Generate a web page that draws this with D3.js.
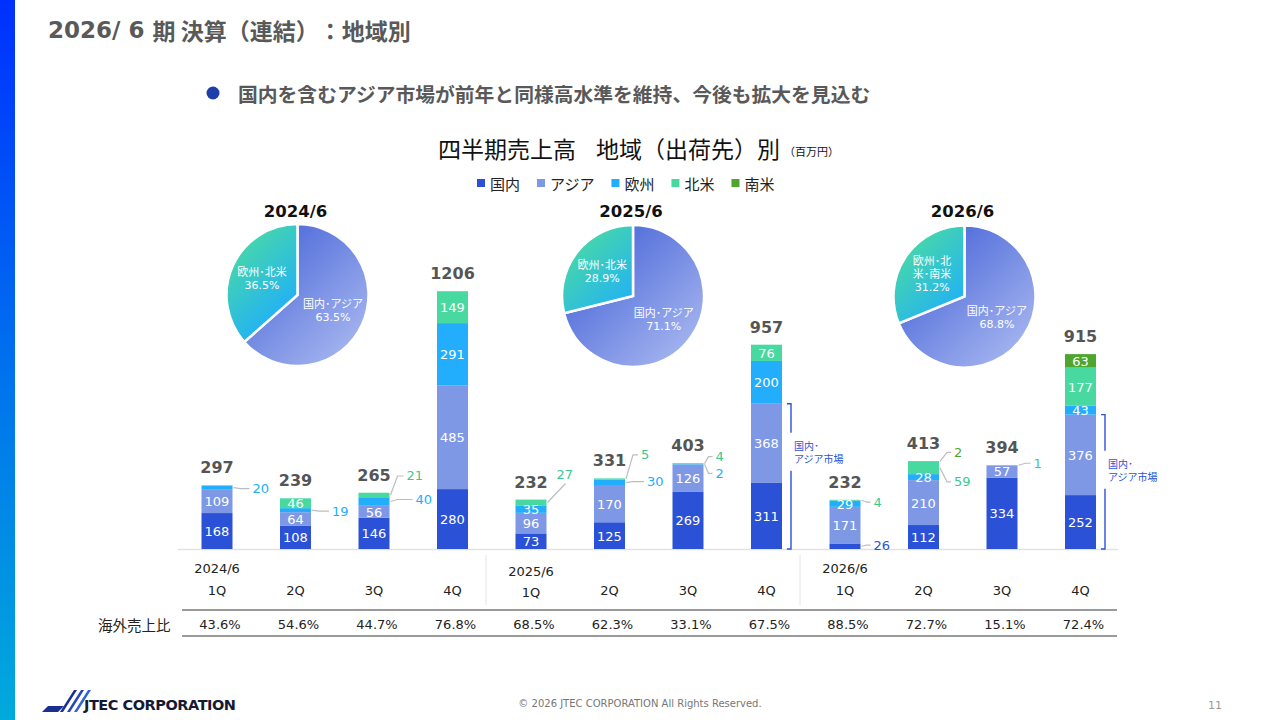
<!DOCTYPE html>
<html lang="ja">
<head>
<meta charset="utf-8">
<title>地域別</title>
<script src="https://cdn.jsdelivr.net/npm/d3@7"></script>
<style>
  html, body { margin: 0; padding: 0; background: #fff; }
  svg { display: block; text-spacing-trim: space-all; }
  text { font-family: "DejaVu Sans", "Noto Sans CJK JP", sans-serif; text-spacing-trim: space-all; }
  .jp { font-family: "Noto Sans CJK JP", sans-serif; }
</style>
</head>
<body>
<svg id="chart" width="1280" height="720"></svg>
<script>
// ---- data (百万円) ----
const quarterLabels = ["1Q", "2Q", "3Q", "4Q", "1Q", "2Q", "3Q", "4Q", "1Q", "2Q", "3Q", "4Q"];
const fiscalYears = ["2024/6", "2025/6", "2026/6"];
const domestic = [168, 108, 146, 280, 73, 125, 269, 311, 26, 112, 334, 252];
const asia = [109, 64, 56, 485, 96, 170, 126, 368, 171, 210, 57, 376];
const europe = [20, 19, 40, 291, 35, 30, 2, 200, 29, 28, 0, 43];
const northAmerica = [0, 46, 21, 149, 27, 5, 4, 76, 4, 59, 1, 177];
const southAmerica = [0, 0, 0, 0, 0, 0, 0, 0, 0, 2, 0, 63];
const totals = [297, 239, 265, 1206, 232, 331, 403, 957, 232, 413, 394, 915];
const overseasRatio = ["43.6%", "54.6%", "44.7%", "76.8%", "68.5%", "62.3%", "33.1%", "67.5%", "88.5%", "72.7%", "15.1%", "72.4%"];

const pieDomAsia = [63.5, 71.1, 68.8];
const pieOverseas = [36.5, 28.9, 31.2];
const pieOverseasNames = [["欧州･北米"], ["欧州･北米"], ["欧州･北", "米･南米"]];

const seriesKeys = ["domestic", "asia", "europe", "northAmerica", "southAmerica"];
const seriesNames = ["国内", "アジア", "欧州", "北米", "南米"];

// ---- styles / layout ----
const colors = {
  domestic: "#2b52d6", asia: "#7f98e6", europe: "#22aefc",
  northAmerica: "#47d9a0", southAmerica: "#4ea62e"
};
const labelColors = {
  domestic: "#2b52d6", asia: "#7f98e6", europe: "#22aefc",
  northAmerica: "#3cc890", southAmerica: "#4ea62e"
};
// values drawn outside the bar with a leader line
const callouts = [
  { i: 0, k: "europe", dx: 20, dy: 1 },
  { i: 1, k: "europe", dx: 21, dy: 1 },
  { i: 2, k: "europe", dx: 26, dy: -2 },
  { i: 2, k: "northAmerica", dx: 17, dy: -19 },
  { i: 4, k: "northAmerica", dx: 10, dy: -28, lead: [18, -19] },
  { i: 5, k: "europe", dx: 22, dy: -1 },
  { i: 5, k: "northAmerica", dx: 16, dy: -24 },
  { i: 6, k: "northAmerica", dx: 12, dy: -7 },
  { i: 6, k: "europe", dx: 12, dy: 9 },
  { i: 8, k: "northAmerica", dx: 13, dy: 2 },
  { i: 8, k: "domestic", dx: 13, dy: -1 },
  { i: 9, k: "southAmerica", dx: 15, dy: -9 },
  { i: 9, k: "northAmerica", dx: 15, dy: 14 },
  { i: 10, k: "northAmerica", dx: 16, dy: -2 }
];
const brackets = [{ i: 7, f: 0.33 }, { i: 11, f: 0.41 }];
const pieCenters = [[297.5, 295], [633, 296], [964.5, 296.5]];
const pieR = 71;
const barW = 31;

const svg = d3.select("#chart");
const defs = svg.append("defs");

// left accent bar
const sideGrad = defs.append("linearGradient").attr("id", "side")
  .attr("x1", 0).attr("y1", 0).attr("x2", 0).attr("y2", 1);
sideGrad.append("stop").attr("offset", 0).attr("stop-color", "#0030ff");
sideGrad.append("stop").attr("offset", 0.5).attr("stop-color", "#0070ee");
sideGrad.append("stop").attr("offset", 1).attr("stop-color", "#00aadc");
svg.append("rect").attr("x", 0).attr("y", 0).attr("width", 15).attr("height", 720)
  .attr("fill", "url(#side)");

// header
const head = svg.append("text").attr("x", 48).attr("y", 30).attr("dominant-baseline", "central")
  .attr("font-size", 23).attr("font-weight", "bold").attr("fill", "#595959");
head.append("tspan").text("2026/ 6 ");
head.append("tspan").attr("class", "jp").text("期 決算（連結）：地域別");

svg.append("circle").attr("cx", 213).attr("cy", 93).attr("r", 6.5).attr("fill", "#1f3fa8");
svg.append("text").attr("class", "jp").attr("x", 238).attr("y", 93)
  .attr("dominant-baseline", "central").attr("font-size", 19.8).attr("font-weight", "bold")
  .attr("fill", "#595959").text("国内を含むアジア市場が前年と同様高水準を維持、今後も拡大を見込む");

// chart title
const title = svg.append("text").attr("class", "jp").attr("x", 438).attr("y", 148)
  .attr("dominant-baseline", "central").attr("fill", "#111");
title.append("tspan").attr("font-size", 23).text("四半期売上高");
title.append("tspan").attr("font-size", 23).attr("dx", 20).text("地域（出荷先）別");
title.append("tspan").attr("font-size", 11).attr("dx", 4).attr("dy", 3).text("（百万円）");

// legend
let lx = 477;
seriesKeys.forEach((k, j) => {
  svg.append("rect").attr("x", lx).attr("y", 179).attr("width", 8).attr("height", 8)
    .attr("fill", colors[k]);
  const t = svg.append("text").attr("class", "jp").attr("x", lx + 13).attr("y", 183)
    .attr("dominant-baseline", "central").attr("font-size", 15).attr("fill", "#222")
    .text(seriesNames[j]);
  lx += 13 + t.node().getComputedTextLength() + 17;
});

// ---- pies ----
const pie = d3.pie().sort(null).value(d => d.v);
const arc = d3.arc().innerRadius(0).outerRadius(pieR);
const labelArc = d3.arc().innerRadius(0).outerRadius(78);

fiscalYears.forEach((fy, p) => {
  const [cx, cy] = pieCenters[p];
  // gradients in the pie group's local space (centre = 0,0)
  const gradBlue = defs.append("linearGradient").attr("id", "pb" + p)
    .attr("gradientUnits", "userSpaceOnUse")
    .attr("x1", -pieR).attr("y1", -pieR).attr("x2", pieR).attr("y2", pieR);
  gradBlue.append("stop").attr("offset", 0).attr("stop-color", "#3656d4");
  gradBlue.append("stop").attr("offset", 1).attr("stop-color", "#b2c0f2");
  const gradTeal = defs.append("linearGradient").attr("id", "pt" + p)
    .attr("gradientUnits", "userSpaceOnUse")
    .attr("x1", -pieR).attr("y1", -pieR).attr("x2", pieR).attr("y2", pieR);
  gradTeal.append("stop").attr("offset", 0).attr("stop-color", "#52e294");
  gradTeal.append("stop").attr("offset", 0.55).attr("stop-color", "#1eaefc");

  const slices = pie([
    { v: pieDomAsia[p], fill: "url(#pb" + p + ")", lines: ["国内･アジア", pieDomAsia[p].toFixed(1) + "%"] },
    { v: pieOverseas[p], fill: "url(#pt" + p + ")", lines: pieOverseasNames[p].concat([pieOverseas[p].toFixed(1) + "%"]) }
  ]);
  const g = svg.append("g").attr("transform", `translate(${cx},${cy})`);
  g.selectAll("path").data(slices).join("path")
    .attr("d", arc).attr("fill", d => d.data.fill)
    .attr("stroke", "#fff").attr("stroke-width", 2.5);
  slices.forEach(s => {
    const [tx, ty] = labelArc.centroid(s);
    const n = s.data.lines.length;
    const t = g.append("text").attr("text-anchor", "middle").attr("fill", "#fff")
      .attr("font-size", 11);
    s.data.lines.forEach((ln, j) => {
      t.append("tspan").attr("x", tx).attr("y", ty + (j - (n - 1) / 2) * 13)
        .attr("dominant-baseline", "central").text(ln);
    });
  });
  svg.append("text").attr("x", cx - 2).attr("y", 211).attr("text-anchor", "middle")
    .attr("dominant-baseline", "central").attr("font-size", 16.5).attr("font-weight", "bold")
    .attr("fill", "#111").text(fy);
});

// ---- stacked bars ----
const x = d3.scalePoint().domain(d3.range(quarterLabels.length)).range([177.75, 1119.75]).padding(0.5);
const y = d3.scaleLinear().domain([0, 1206]).range([549, 291]);

const rows = quarterLabels.map((q, i) => ({
  i, domestic: domestic[i], asia: asia[i], europe: europe[i],
  northAmerica: northAmerica[i], southAmerica: southAmerica[i]
}));
const stacked = d3.stack().keys(seriesKeys)(rows);

svg.append("line").attr("x1", 178).attr("x2", 1118).attr("y1", y(0) + 0.5).attr("y2", y(0) + 0.5)
  .attr("stroke", "#e2e2e2").attr("stroke-width", 1.5);

const layers = svg.append("g").selectAll("g").data(stacked).join("g")
  .attr("fill", d => colors[d.key]);
layers.selectAll("rect").data(d => d.filter(v => v[1] > v[0])).join("rect")
  .attr("x", d => x(d.data.i) - barW / 2)
  .attr("y", d => y(d[1]))
  .attr("width", barW)
  .attr("height", d => y(d[0]) - y(d[1]));

const isCallout = (i, k) => callouts.some(c => c.i === i && c.k === k);
const segOf = (i, k) => stacked.find(s => s.key === k)[i];

// inside labels
stacked.forEach(layer => {
  layer.forEach(d => {
    const v = d[1] - d[0];
    if (v <= 0 || isCallout(d.data.i, layer.key)) return;
    svg.append("text").attr("x", x(d.data.i)).attr("y", (y(d[0]) + y(d[1])) / 2 + 0.5)
      .attr("text-anchor", "middle").attr("dominant-baseline", "central")
      .attr("font-size", 13).attr("fill", "#fff").text(v);
  });
});

// callouts
callouts.forEach(c => {
  const d = segOf(c.i, c.k);
  const x0 = x(c.i) + barW / 2 + 1;
  const yc = (y(d[0]) + y(d[1])) / 2;
  const pts = c.lead
    ? [[x0, yc], [x0 + c.lead[0], yc + c.lead[1]]]
    : [[x0, yc], [x0 + Math.min(7, c.dx - 8), yc + c.dy], [x0 + c.dx - 4, yc + c.dy]];
  svg.append("path").attr("d", d3.line()(pts)).attr("fill", "none")
    .attr("stroke", "#bdbdbd").attr("stroke-width", 1.2);
  svg.append("text").attr("x", x0 + c.dx - 1).attr("y", yc + c.dy)
    .attr("dominant-baseline", "central").attr("font-size", 13)
    .attr("fill", labelColors[c.k]).text(d[1] - d[0]);
});

// totals
totals.forEach((t, i) => {
  const top = stacked[stacked.length - 1][i][1];
  svg.append("text").attr("x", x(i)).attr("y", y(top) - 12)
    .attr("text-anchor", "middle").attr("font-size", 16).attr("font-weight", "bold")
    .attr("fill", "#555").text(t);
});

// 国内・アジア市場 brackets
brackets.forEach(b => {
  const bx = x(b.i) + barW / 2 + 9;
  const top = y(domestic[b.i] + asia[b.i]);
  const bot = y(0);
  const mid = top + (bot - top) * b.f;
  svg.append("path")
    .attr("d", `M${bx - 4},${top}H${bx}V${mid - 19}M${bx},${mid + 19}V${bot}H${bx - 4}`)
    .attr("fill", "none").attr("stroke", "#2b52d6").attr("stroke-width", 1.4);
  const t = svg.append("text").attr("class", "jp").attr("font-size", 10).attr("fill", "#2b52d6");
  t.append("tspan").attr("x", bx + 3).attr("y", mid - 6).attr("dominant-baseline", "central").text("国内･");
  t.append("tspan").attr("x", bx + 3).attr("y", mid + 7).attr("dominant-baseline", "central").text("アジア市場");
});

// ---- axis labels / table ----
fiscalYears.forEach((fy, g) => {
  const i0 = g * 4;
  const dy = g === 1 ? 3 : 0;
  svg.append("text").attr("x", x(i0)).attr("y", 568 + dy).attr("text-anchor", "middle")
    .attr("dominant-baseline", "central").attr("font-size", 13).attr("fill", "#222").text(fy);
  if (g > 0) {
    svg.append("line").attr("x1", x(i0) - 45).attr("x2", x(i0) - 45).attr("y1", 555).attr("y2", 605)
      .attr("stroke", "#e4e4e4").attr("stroke-width", 1);
  }
});
quarterLabels.forEach((q, i) => {
  svg.append("text").attr("x", x(i)).attr("y", i === 4 ? 592 : 590).attr("text-anchor", "middle")
    .attr("dominant-baseline", "central").attr("font-size", 13).attr("fill", "#222").text(q);
  svg.append("text").attr("x", x(i) + 3).attr("y", 624).attr("text-anchor", "middle")
    .attr("dominant-baseline", "central").attr("font-size", 13).attr("fill", "#222")
    .text(overseasRatio[i]);
});
[610, 636].forEach(ly => {
  svg.append("line").attr("x1", 182).attr("x2", 1117).attr("y1", ly).attr("y2", ly)
    .attr("stroke", "#9a9a9a").attr("stroke-width", 2);
});
svg.append("text").attr("class", "jp").attr("x", 98).attr("y", 624)
  .attr("dominant-baseline", "central").attr("font-size", 14.5).attr("fill", "#222").text("海外売上比");

// ---- footer ----
const logo = svg.append("g").attr("transform", "translate(42,690)");
logo.append("path").attr("d", "M0,22L6,16H22L16,22Z").attr("fill", "#1b2f8f");
[[18, "#1b2f8f"], [25, "#2447b8"], [32, "#2f62d6"]].forEach(([ox, col]) => {
  logo.append("path").attr("d", `M${ox},22L${ox + 14},0H${ox + 17}L${ox + 3},22Z`).attr("fill", col);
});
svg.append("text").attr("x", 84).attr("y", 705).attr("dominant-baseline", "central")
  .attr("font-family", "'Liberation Sans', sans-serif").attr("font-size", 14.5)
  .attr("font-weight", "bold").attr("fill", "#141a33").attr("textLength", 152)
  .text("JTEC CORPORATION");
svg.append("text").attr("x", 640).attr("y", 703).attr("text-anchor", "middle")
  .attr("dominant-baseline", "central").attr("font-family", "'Noto Sans', sans-serif")
  .attr("font-size", 10).attr("fill", "#777").text("© 2026 JTEC CORPORATION All Rights Reserved.");
svg.append("text").attr("x", 1215).attr("y", 705).attr("text-anchor", "middle")
  .attr("dominant-baseline", "central").attr("font-family", "'Noto Sans', sans-serif")
  .attr("font-size", 11).attr("fill", "#999").text("11");
</script>
</body>
</html>
